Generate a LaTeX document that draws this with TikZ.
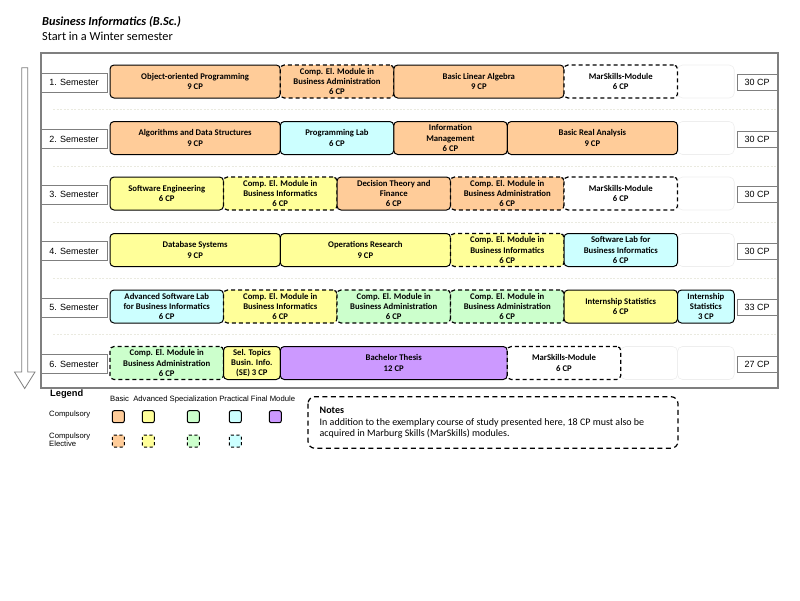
\documentclass[tikz,border=0pt]{standalone}
\usepackage{fontspec}
\setmainfont{Carlito}
\newfontfamily\arialf{Liberation Sans}
\definecolor{cbasic}{HTML}{FFCC99}
\definecolor{cadv}{HTML}{FFFF99}
\definecolor{cspec}{HTML}{CCFFCC}
\definecolor{cprac}{HTML}{CCFFFF}
\definecolor{cfinal}{HTML}{CC99FF}
\definecolor{framegrey}{HTML}{7F7F7F}
\definecolor{faintgrey}{HTML}{EEEEEE}
\definecolor{sepgrey}{HTML}{EAEAE0}
\newcommand\Mod[6]{\node[#2, minimum width={56.75pt*(#4-#3)}] (#1) at ({110+56.75*(#3+#4)/2}, #5) {#6};}
\newcommand\Sem[3]{%
  \node[semlabel] (s#1) at (74, #2+1) {#1. Semester};
  \node[cplabel] (cp#1) at (757, #2+1) {#3 CP};}
\begin{document}
\begin{tikzpicture}[x=1pt,y=-1pt,
  mod/.style={draw=black, line width=1pt, rounded corners=4pt, minimum height=33pt,
    inner sep=1pt, align=center, font=\fontsize{8.7}{10.4}\selectfont\bfseries},
  el/.style={mod, dash pattern=on 4pt off 3pt, line width=1.2pt},
  faint/.style={draw=faintgrey, line width=0.6pt, fill=white, rounded corners=5pt, minimum height=33pt},
  semlabel/.style={draw=framegrey, line width=1pt, fill=white, minimum width=66pt, minimum height=19pt,
    inner sep=0pt, font=\arialf\fontsize{9}{10}\selectfont},
  cplabel/.style={draw=framegrey, line width=1pt, fill=white, minimum width=40pt, minimum height=16pt,
    inner sep=0pt, font=\arialf\fontsize{9}{10}\selectfont},
  sepline/.style={draw=sepgrey, line width=0.6pt, dash pattern=on 2pt off 1.5pt},
  legsq/.style={draw=black, line width=1pt, rounded corners=2pt, minimum width=12pt, minimum height=12pt, inner sep=0pt},
  legel/.style={legsq, dash pattern=on 3pt off 2.5pt},
  smalltxt/.style={font=\arialf\fontsize{7.7}{9}\selectfont, inner sep=0pt},
  notetxt/.style={anchor=base west, inner sep=0pt, font=\fontsize{10}{11.5}\selectfont}
]
\useasboundingbox (0,0) rectangle (800,600);
\fill[white] (0,0) rectangle (800,600);

% title
\node[anchor=west, inner sep=0pt, font=\fontsize{12.3}{14}\selectfont\bfseries\itshape] (title) at (42,22) {Business Informatics (B.Sc.)};
\node[anchor=west, inner sep=0pt, font=\fontsize{12.3}{14}\selectfont] (subtitle) at (42,36.5) {Start in a Winter semester};

% outer frame
\draw[framegrey, line width=1.3pt] (41,53) rectangle (778,388);

% arrow
\draw[framegrey, fill=white, line width=0.8pt] (21.7,67.7) -- (27.7,67.7) -- (27.7,372) -- (35,372) -- (24.7,388.5) -- (14.5,372) -- (21.7,372) -- cycle;

% separators
\foreach \yy in {109.5,166,222,278,334} \draw[sepline] (53,\yy) -- (776,\yy);

\def\ra{81.5}\def\rb{138}\def\rc{193.5}\def\rd{250}\def\re{306.5}\def\rf{363}

% faint empty boxes
\Mod{fa}{faint}{10}{11}{\ra}{}
\Mod{fb}{faint}{10}{11}{\rb}{}
\Mod{fc}{faint}{10}{11}{\rc}{}
\Mod{fd}{faint}{10}{11}{\rd}{}
\Mod{ff1}{faint}{9}{10}{\rf}{}
\Mod{ff2}{faint}{10}{11}{\rf}{}

% semester labels
\Sem{1}{\ra}{30}
\Sem{2}{\rb}{30}
\Sem{3}{\rc}{30}
\Sem{4}{\rd}{30}
\Sem{5}{\re}{33}
\Sem{6}{\rf}{27}

% row 1
\Mod{a1}{mod,fill=cbasic}{0}{3}{\ra}{Object-oriented Programming\\9 CP}
\Mod{a2}{el,fill=cbasic}{3}{5}{\ra}{Comp. El. Module in\\Business Administration\\6 CP}
\Mod{a3}{mod,fill=cbasic}{5}{8}{\ra}{Basic Linear Algebra\\9 CP}
\Mod{a4}{el,fill=white}{8}{10}{\ra}{MarSkills-Module\\6 CP}

% row 2
\Mod{b1}{mod,fill=cbasic}{0}{3}{\rb}{Algorithms and Data Structures\\9 CP}
\Mod{b2}{mod,fill=cprac}{3}{5}{\rb}{Programming Lab\\6 CP}
\Mod{b3}{mod,fill=cbasic}{5}{7}{\rb}{Information\\Management\\6 CP}
\Mod{b4}{mod,fill=cbasic}{7}{10}{\rb}{Basic Real Analysis\\9 CP}

% row 3
\Mod{c1}{mod,fill=cadv}{0}{2}{\rc}{Software Engineering\\6 CP}
\Mod{c2}{el,fill=cadv}{2}{4}{\rc}{Comp. El. Module in\\Business Informatics\\6 CP}
\Mod{c3}{mod,fill=cbasic}{4}{6}{\rc}{Decision Theory and\\Finance\\6 CP}
\Mod{c4}{el,fill=cbasic}{6}{8}{\rc}{Comp. El. Module in\\Business Administration\\6 CP}
\Mod{c5}{el,fill=white}{8}{10}{\rc}{MarSkills-Module\\6 CP}

% row 4
\Mod{d1}{mod,fill=cadv}{0}{3}{\rd}{Database Systems\\9 CP}
\Mod{d2}{mod,fill=cadv}{3}{6}{\rd}{Operations Research\\9 CP}
\Mod{d3}{el,fill=cadv}{6}{8}{\rd}{Comp. El. Module in\\Business Informatics\\6 CP}
\Mod{d4}{mod,fill=cprac}{8}{10}{\rd}{Software Lab for\\Business Informatics\\6 CP}

% row 5
\Mod{e1}{mod,fill=cprac}{0}{2}{\re}{Advanced Software Lab\\for Business Informatics\\6 CP}
\Mod{e2}{el,fill=cadv}{2}{4}{\re}{Comp. El. Module in\\Business Informatics\\6 CP}
\Mod{e3}{el,fill=cspec}{4}{6}{\re}{Comp. El. Module in\\Business Administration\\6 CP}
\Mod{e4}{el,fill=cspec}{6}{8}{\re}{Comp. El. Module in\\Business Administration\\6 CP}
\Mod{e5}{mod,fill=cadv}{8}{10}{\re}{Internship Statistics\\6 CP}
\Mod{e6}{mod,fill=cprac}{10}{11}{\re}{Internship\\Statistics\\3 CP}

% row 6
\Mod{f1}{el,fill=cspec}{0}{2}{\rf}{Comp. El. Module in\\Business Administration\\6 CP}
\Mod{f2}{mod,fill=cadv}{2}{3}{\rf}{Sel. Topics\\Busin. Info.\\(SE) 3 CP}
\Mod{f3}{mod,fill=cfinal}{3}{7}{\rf}{Bachelor Thesis\\12 CP}
\Mod{f4}{el,fill=white}{7}{9}{\rf}{MarSkills-Module\\6 CP}

% legend
\node[anchor=west, inner sep=0pt, font=\arialf\fontsize{9.3}{10}\selectfont\bfseries] (legend) at (50,394) {Legend};
\node[smalltxt, anchor=west] (legcols) at (110,399.5) {Basic\ \ Advanced Specialization Practical Final Module};
\node[smalltxt, anchor=west] (legcomp) at (49,414.5) {Compulsory};
\node[smalltxt, anchor=west, align=left, font=\arialf\fontsize{7.7}{8.5}\selectfont] (legel) at (49,439.5) {Compulsory\\Elective};
\node[legsq, fill=cbasic] (lc1) at (118.3,416.7) {};
\node[legsq, fill=cadv] (lc2) at (148.3,416.7) {};
\node[legsq, fill=cspec] (lc3) at (193.3,416.7) {};
\node[legsq, fill=cprac] (lc4) at (235.3,416.7) {};
\node[legsq, fill=cfinal] (lc5) at (275.3,416.7) {};
\node[legel, fill=cbasic] (le1) at (118.3,441) {};
\node[legel, fill=cadv] (le2) at (148.3,441) {};
\node[legel, fill=cspec] (le3) at (193.3,441) {};
\node[legel, fill=cprac] (le4) at (235.3,441) {};

% notes
\draw[line width=1.2pt, dash pattern=on 5pt off 3.5pt, rounded corners=7pt] (308,396.7) rectangle (678,448.3);
\node[notetxt, font=\fontsize{10}{11.5}\selectfont\bfseries] (noteshead) at (319.5,413.5) {Notes};
\node[notetxt] (notes1) at (319.5,425.5) {In addition to the exemplary course of study presented here, 18 CP must also be};
\node[notetxt] (notes2) at (319.5,436.8) {acquired in Marburg Skills (MarSkills) modules.};
\end{tikzpicture}
\end{document}
